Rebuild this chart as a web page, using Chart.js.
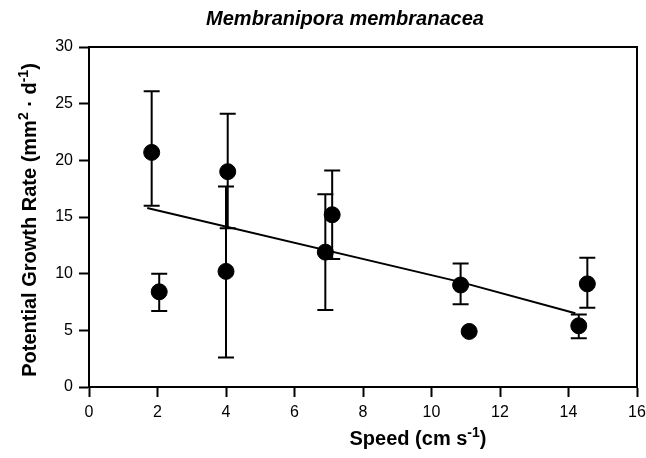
<!DOCTYPE html>
<html>
<head>
<meta charset="utf-8">
<script src="https://cdn.jsdelivr.net/npm/chart.js@4.4.1/dist/chart.umd.min.js"></script>
<style>
  html, body { margin: 0; padding: 0; background: #fff; }
  #wrap { width: 646px; height: 458px; }
</style>
</head>
<body>
<div id="wrap"><canvas id="grafico" width="646" height="458"></canvas></div>
<script>
// Datos
const speeds = [1.83, 2.05, 4.05, 4.0, 6.9, 7.1, 10.85, 11.1, 14.55, 14.3];
const rates = [20.7, 8.4, 19.0, 10.2, 11.9, 15.2, 9.0, 4.9, 9.1, 5.4];
const errHigh = [26.1, 10.0, 24.1, 17.7, 17.0, 19.1, 10.9, null, 11.4, 6.4];
const errLow = [16.0, 6.7, 14.0, 2.6, 6.8, 11.3, 7.3, null, 7.0, 4.3];
const fitX = [1.7, 10.8, 14.2];
const fitY = [15.8, 9.3, 6.5];
const xTicks = [0, 2, 4, 6, 8, 10, 12, 14, 16];
const yTicks = [0, 5, 10, 15, 20, 25, 30];

const tickFont = "'Liberation Sans Narrow', 'Liberation Sans', Arial, sans-serif";
const titleFont = "'Liberation Sans', Arial, sans-serif";

const points = speeds.map((s, i) => ({ x: s, y: rates[i] }));
const fitLine = fitX.map((s, i) => ({ x: s, y: fitY[i] }));

// Barras de error, marco y titulos
const errorBars = {
  id: 'errorBars',
  beforeDatasetsDraw(chart) {
    const ctx = chart.ctx;
    const xs = chart.scales.x, ys = chart.scales.y;
    ctx.save();
    ctx.strokeStyle = '#000';
    ctx.lineWidth = 2;
    speeds.forEach((s, i) => {
      if (errHigh[i] == null) return;
      const px = xs.getPixelForValue(s);
      const top = ys.getPixelForValue(errHigh[i]);
      const bot = ys.getPixelForValue(errLow[i]);
      ctx.beginPath();
      ctx.moveTo(px, top); ctx.lineTo(px, bot);
      ctx.moveTo(px - 8, top); ctx.lineTo(px + 8, top);
      ctx.moveTo(px - 8, bot); ctx.lineTo(px + 8, bot);
      ctx.stroke();
    });
    ctx.restore();
  },
  afterDraw(chart) {
    const ctx = chart.ctx;
    const a = chart.chartArea;
    ctx.save();
    ctx.strokeStyle = '#000';
    ctx.lineWidth = 2;
    ctx.strokeRect(a.left, a.top, a.right - a.left, a.bottom - a.top);

    // titulo
    ctx.fillStyle = '#000';
    ctx.font = "italic bold 20px " + titleFont;
    ctx.textAlign = 'center';
    ctx.textBaseline = 'middle';
    ctx.fillText('Membranipora membranacea', 345, 19);

    // eje x
    drawRich(ctx, [['Speed (cm s', false], ['-1', true], [')', false]], 418, 438, 0);
    // eje y
    drawRich(ctx, [['Potential Growth Rate (mm', false], ['2', true], [' \u00b7 d', false], ['-1', true], [')', false]], 29, 220, -Math.PI / 2);
    ctx.restore();
  }
};

function drawRich(ctx, parts, cx, cy, angle) {
  const big = "bold 20px " + titleFont;
  const small = "bold 14px " + titleFont;
  let total = 0;
  parts.forEach(p => {
    ctx.font = p[1] ? small : big;
    total += ctx.measureText(p[0]).width;
  });
  ctx.save();
  ctx.translate(cx, cy);
  ctx.rotate(angle);
  ctx.textAlign = 'left';
  ctx.textBaseline = 'alphabetic';
  let x = -total / 2;
  parts.forEach(p => {
    ctx.font = p[1] ? small : big;
    ctx.fillText(p[0], x, p[1] ? -1 : 7);
    x += ctx.measureText(p[0]).width;
  });
  ctx.restore();
}

new Chart(document.getElementById('grafico'), {
  type: 'scatter',
  data: {
    datasets: [
      {
        label: 'Datos',
        data: points,
        backgroundColor: '#000',
        borderColor: '#000',
        pointRadius: 8,
        pointHoverRadius: 8,
        order: 1
      },
      {
        label: 'Regresion',
        type: 'line',
        data: fitLine,
        borderColor: '#000',
        borderWidth: 2,
        pointRadius: 0,
        fill: false,
        tension: 0,
        order: 2
      }
    ]
  },
  options: {
    responsive: false,
    animation: false,
    layout: { padding: { top: 47, right: 9, left: 0, bottom: 0 } },
    plugins: {
      legend: { display: false },
      tooltip: { enabled: false },
      title: { display: false }
    },
    scales: {
      x: {
        type: 'linear',
        min: 0, max: 16,
        afterBuildTicks: axis => { axis.ticks = xTicks.map(v => ({ value: v })); },
        afterFit: axis => { axis.height = 71; axis.paddingLeft = 0; axis.paddingRight = 0; },
        grid: { drawOnChartArea: false, drawTicks: true, tickLength: 10, tickColor: '#000', tickWidth: 2 },
        border: { display: true, color: '#000', width: 2 },
        ticks: { color: '#000', padding: 6, maxRotation: 0, font: { family: tickFont, size: 16 } }
      },
      y: {
        type: 'linear',
        min: 0, max: 30,
        afterBuildTicks: axis => { axis.ticks = yTicks.map(v => ({ value: v })); },
        afterFit: axis => { axis.width = 89; axis.paddingTop = 0; axis.paddingBottom = 0; },
        grid: { drawOnChartArea: false, drawTicks: true, tickLength: 10, tickColor: '#000', tickWidth: 2 },
        border: { display: true, color: '#000', width: 2 },
        ticks: { color: '#000', padding: 6, font: { family: tickFont, size: 16 } }
      }
    }
  },
  plugins: [errorBars]
});
</script>
</body>
</html>
